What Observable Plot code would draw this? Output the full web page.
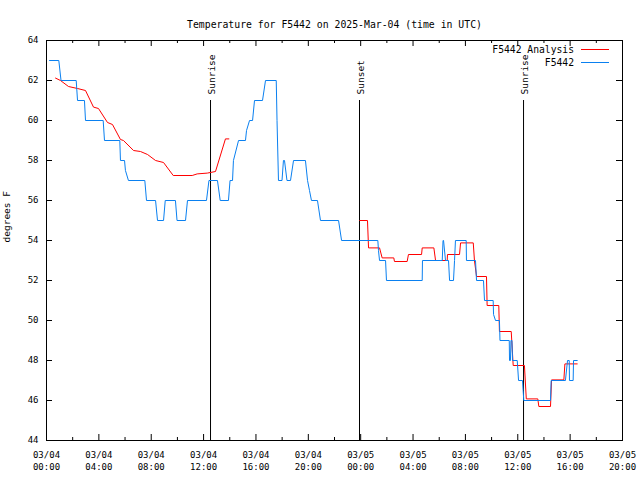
<!DOCTYPE html>
<html><head><meta charset="utf-8">
<script src="https://cdn.jsdelivr.net/npm/d3@7"></script>
<script src="https://cdn.jsdelivr.net/npm/@observablehq/plot@0.6"></script>
<style>body{margin:0;background:#fff}svg{display:block}</style>
</head><body><div id="chart"></div>
<script>
const title = "Temperature for F5442 on 2025-Mar-04 (time in UTC)";
const yLabel = "degrees F";
const startUTC = Date.UTC(2025, 2, 4, 0, 0);
const spanHours = 44;
const majorTickHours = [0, 4, 8, 12, 16, 20, 24, 28, 32, 36, 40, 44];
const minorTickHours = [2, 6, 10, 14, 18, 22, 26, 30, 34, 38, 42];
const yTicks = [44, 46, 48, 50, 52, 54, 56, 58, 60, 62, 64];

// F5442 observations (hours since 03/04 00:00 UTC, °F)
const blueHours = [0.23,0.94,1.11,2.27,2.37,2.90,2.98,4.33,4.43,5.60,
  5.65,5.96,6.03,6.26,7.51,7.64,8.33,8.48,8.94,9.07,
  9.85,9.97,10.62,10.77,12.22,12.41,13.06,13.27,13.90,14.02,
  14.21,14.28,14.67,15.20,15.28,15.51,15.74,15.89,16.50,16.73,
  17.55,17.61,17.72,17.99,18.10,18.18,18.37,18.64,18.87,19.78,
  19.94,20.09,20.24,20.70,20.93,22.31,22.54,25.31,25.36,25.44,
  25.90,25.97,28.70,28.72,30.23,30.29,30.33,30.48,30.71,30.79,
  31.09,31.17,31.24,32.06,32.08,32.77,32.85,33.38,33.46,34.12,
  34.15,34.30,34.60,34.64,35.35,35.37,35.44,35.48,35.56,35.60,
  35.96,36.06,36.36,36.41,36.46,38.50,38.55,39.64,39.80,39.93,
  39.95,40.23,40.26,40.54];
const blueValues = [63,63,62,62,61,61,60,60,59,59,
  58,58,57.5,57,57,56,56,55,55,56,
  56,55,55,56,56,57,57,56,56,57,
  57,58,59,59,59.5,60,60,61,61,62,
  62,60,57,57,58,58,57,57,58,58,
  57,56.5,56,56,55,55,54,54,53.5,53,
  53,52,52,53,53,54,54,53,53,52,
  52,53,54,54,53,53,52,52,51,51,
  50.3,50,50,49,49,48,48,49,49,48,
  48,47,47,46.5,46,46,47,47,48,48,
  47,47,48,48];

// F5442 Analysis, two segments
const redHours1 = [0.69,1.07,1.68,2.37,2.98,3.59,3.97,4.66,5.04,5.65,5.88,6.65,7.18,7.72,8.33,8.94,9.68,11.13,11.51,12.28,12.91,13.67,13.93];
const redValues1 = [62.12,62.0,61.7,61.6,61.5,60.67,60.6,59.9,59.8,59.05,59.0,58.5,58.45,58.3,58.0,57.9,57.25,57.25,57.33,57.37,57.45,59.08,59.08];
const redHours2 = [23.93,24.52,24.60,25.44,25.64,26.53,26.58,27.55,27.65,28.65,
  28.70,29.59,29.72,30.61,30.63,31.55,31.63,32.60,32.69,32.85,
  33.61,33.66,34.55,34.60,35.50,35.65,36.51,36.65,37.53,37.61,
  38.50,38.58,39.52,39.60,40.54];
const redValues2 = [55,55,53.63,53.63,53.13,53.13,52.95,52.95,53.3,53.3,
  53.63,53.63,53,53,53.3,53.3,53.88,53.88,53.0,52.2,
  52.2,50.75,50.75,49.45,49.45,47.75,47.75,46.08,46.08,45.7,
  45.7,47.03,47.03,47.83,47.83];

const eventLabels = ["Sunrise", "Sunset", "Sunrise"];
const eventHours = [12.53, 23.91, 36.44];
const eventTop = 61;
const eventLabelAt = 61.3;

const seriesNames = ["F5442 Analysis", "F5442"];
const seriesColors = ["#ff0000", "#0a80f0"];

const toDate = h => new Date(startUTC + h * 3600e3);
const blue = blueHours.map((h, i) => ({t: toDate(h), v: blueValues[i]}));
const red = [
  ...redHours1.map((h, i) => ({t: toDate(h), v: redValues1[i]})),
  {t: toDate((redHours1[redHours1.length-1] + redHours2[0]) / 2), v: NaN},
  ...redHours2.map((h, i) => ({t: toDate(h), v: redValues2[i]}))
];
const events = eventLabels.map((label, i) => ({t: toDate(eventHours[i]), label}));
const majors = majorTickHours.map(toDate);
const minors = minorTickHours.map(toDate);

const W = 640, H = 480, mL = 46, mR = 18, mT = 40, mB = 40;
const fw = W - mL - mR, fh = H - mT - mB;

const chart = Plot.plot({
  width: W, height: H,
  marginLeft: mL, marginRight: mR, marginTop: mT, marginBottom: mB,
  style: {fontFamily: "DejaVu Sans Mono", fontSize: "9px", background: "white", color: "black"},
  x: {type: "utc", domain: [toDate(0), toDate(spanHours)], label: null},
  y: {domain: [44, 64], label: null},
  marks: [
    Plot.frame({stroke: "black"}),
    Plot.ruleX(majors, {x: d => d, insetTop: fh - 6, stroke: "black"}),
    Plot.ruleX(minors, {x: d => d, insetTop: fh - 3, stroke: "black"}),
    Plot.ruleX(majors, {x: d => d, insetBottom: fh - 6, stroke: "black"}),
    Plot.ruleX(minors, {x: d => d, insetBottom: fh - 3, stroke: "black"}),
    Plot.ruleY(yTicks, {y: d => d, insetRight: fw - 6, stroke: "black"}),
    Plot.ruleY(yTicks, {y: d => d, insetLeft: fw - 6, stroke: "black"}),
    Plot.axisX({ticks: majors, tickFormat: d3.utcFormat("%m/%d"), tickSize: 0, tickPadding: 11, label: null}),
    Plot.axisX({ticks: majors, tickFormat: d3.utcFormat("%H:%M"), tickSize: 0, tickPadding: 23.5, label: null}),
    Plot.axisY({ticks: yTicks, tickSize: 0, tickPadding: 8, label: null}),
    Plot.ruleX(events, {x: "t", y1: () => eventTop, y2: () => 44, stroke: "black"}),
    Plot.text(events, {x: "t", y: () => eventLabelAt, text: "label", rotate: -90, textAnchor: "start", dx: 1, fontSize: 9.5}),
    Plot.line(red, {x: "t", y: "v", stroke: seriesColors[0], strokeWidth: 1}),
    Plot.line(blue, {x: "t", y: "v", stroke: seriesColors[1], strokeWidth: 1}),
    Plot.text([title], {frameAnchor: "top", dy: -19.5, fontSize: 9.8}),
    Plot.text([yLabel], {frameAnchor: "left", rotate: -90, dx: -40, dy: 2, fontSize: 9.5})
  ]
});
document.getElementById("chart").appendChild(chart);

// legend (top right, inside frame)
const svg = d3.select(chart);
const leg = svg.append("g").attr("font-family", "DejaVu Sans Mono").attr("font-size", 9.7);
seriesNames.forEach((name, i) => {
  const y = 49.5 + i * 13;
  leg.append("text").attr("x", 574).attr("y", y).attr("dy", "0.32em")
    .attr("text-anchor", "end").attr("fill", "black").text(name);
  leg.append("line").attr("x1", 581).attr("x2", 609).attr("y1", y).attr("y2", y)
    .attr("stroke", seriesColors[i]).attr("stroke-width", 1);
});
</script>
</body></html>
